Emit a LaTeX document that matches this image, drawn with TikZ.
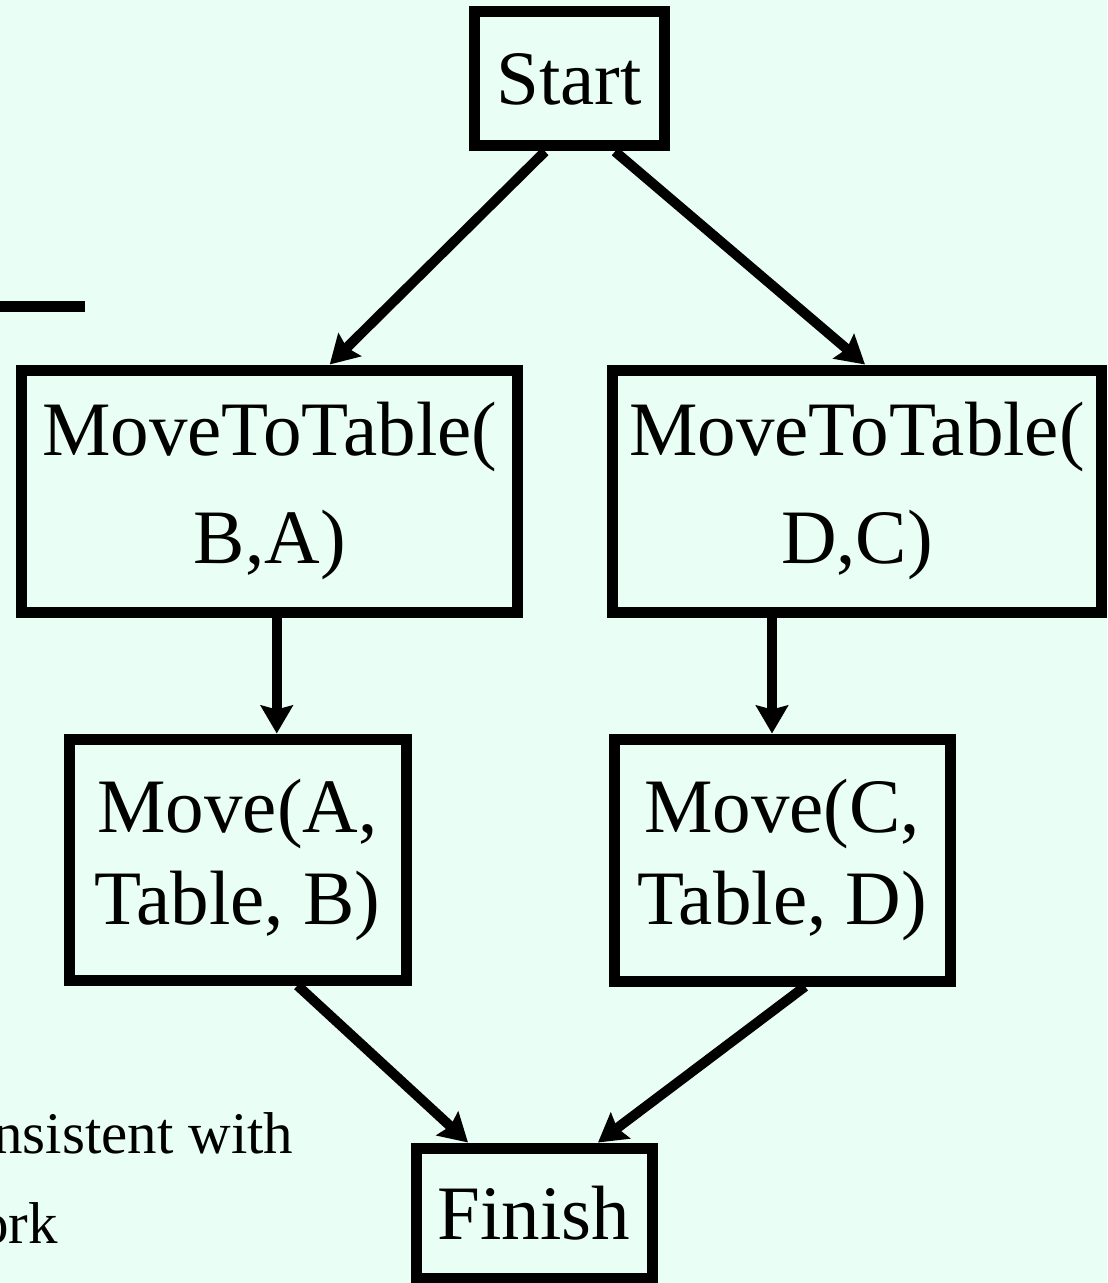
\documentclass[tikz,border=0pt]{standalone}
\usepackage{fontspec}
\setmainfont{Liberation Serif}
\usetikzlibrary{arrows.meta}
\definecolor{mint}{RGB}{233,255,245}

\begin{document}
\begin{tikzpicture}[x=0.5pt, y=-0.5pt]
            \tikzstyle{step box}=[draw,line width=5.5pt,inner sep=0pt,align=center,font=\fontsize{38.5pt}{46pt}\selectfont]
            \tikzstyle{link}=[line width=5pt,-{Stealth[length=14pt,width=16pt,inset=2pt]}]
            \tikzstyle{behind}=[anchor=base west,inner sep=0pt,font=\fontsize{29.5pt}{36pt}\selectfont]

            \useasboundingbox (0,0) rectangle (1107,1283);
            \fill[mint] (0,0) rectangle (1107,1283);
            \clip (0,0) rectangle (1107,1283);

            \node[step box,minimum width=95pt,minimum height=67pt] (P_start) at (569,79) {Start};
            \node[step box,minimum width=248pt,minimum height=121pt] (P_1) at (269.75,491) {MoveToTable(\\[8pt]B,A)};
            \node[step box,minimum width=244.5pt,minimum height=121pt] (P_2) at (857,491) {MoveToTable(\\[8pt]D,C)};
            \node[step box,minimum width=168.5pt,minimum height=120.5pt] (P_3) at (237.5,859.5) {Move(A,\\Table, B)};
            \node[step box,minimum width=168pt,minimum height=121pt] (P_4) at (782,860) {Move(C,\\Table, D)};
            \node[step box,minimum width=118pt,minimum height=65pt] (P_finish) at (534,1213) {Finish};

            \draw[link] ([xshift=-12pt]P_start.south) -- ([xshift=30pt]P_1.north);
            \draw[link] ([xshift=23pt]P_start.south) -- ([xshift=4pt]P_2.north);
            \draw[link] ([xshift=3.5pt]P_1.south) -- ([xshift=3.5pt]P_1.south |- P_3.north);
            \draw[link] ([xshift=-42.5pt]P_2.south) -- ([xshift=-42.5pt]P_2.south |- P_4.north);
            \draw[link] ([xshift=30pt]P_3.south) -- ([xshift=-33pt]P_finish.north);
            \draw[link] ([xshift=11.5pt]P_4.south) -- ([xshift=32pt]P_finish.north);

            % pieces of the slide behind
            \coordinate (R_1) at (0,307);
            \coordinate (R_2) at (85,307);
            \draw[line width=5.5pt] (R_1) -- (R_2);
            \node[behind] (T_1) at (-7,1153) {nsistent with};
            \node[behind] (T_2) at (-21,1243) {ork};
        \end{tikzpicture}
\end{document}
